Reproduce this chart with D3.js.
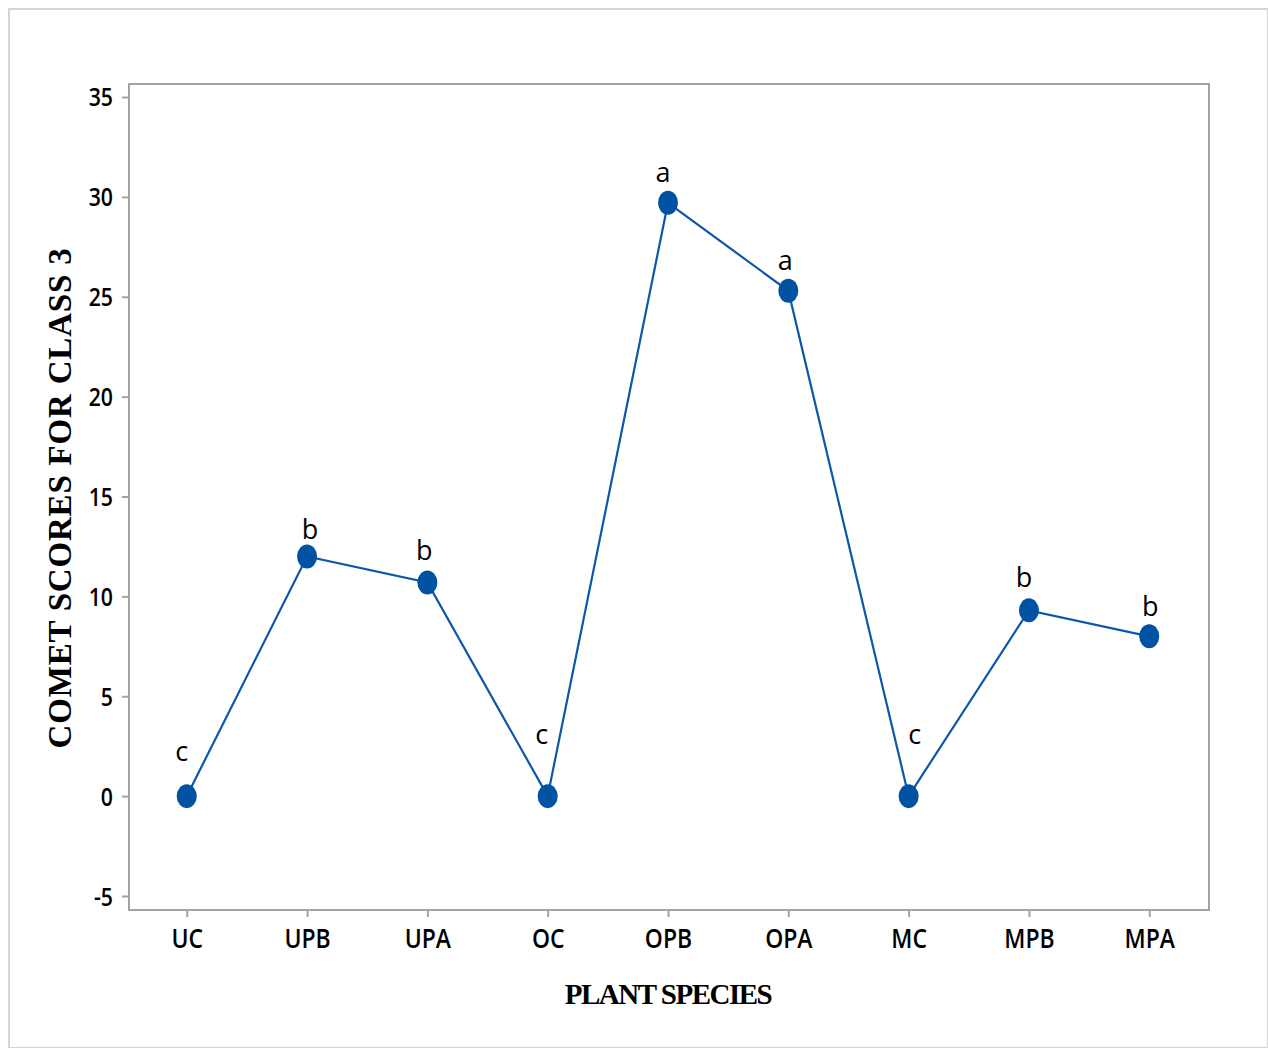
<!DOCTYPE html>
<html>
<head>
<meta charset="utf-8">
<script src="https://cdn.jsdelivr.net/npm/d3@7"></script>
<style>
  body { margin: 0; background: #fff; }
  svg text { fill: #000; }
</style>
</head>
<body>
<div id="chart"></div>
<script>
const species = ["UC", "UPB", "UPA", "OC", "OPB", "OPA", "MC", "MPB", "MPA"];
const scores = [0, 12.0, 10.7, 0, 29.7, 25.3, 0, 9.3, 8.0];
const letters = ["c", "b", "b", "c", "a", "a", "c", "b", "b"];
const yTicks = [-5, 0, 5, 10, 15, 20, 25, 30, 35];

function renderChart() {
    const W = 1268, H = 1048;
    const plot = {left: 129, right: 1209, top: 84, bottom: 910};
    const squeeze = 0.85;

    const svg = d3.select("#chart").append("svg")
        .attr("width", W)
        .attr("height", H);

    // outer frame
    svg.append("rect")
        .attr("x", 9).attr("y", 9)
        .attr("width", W - 9).attr("height", H - 9)
        .attr("fill", "none")
        .attr("stroke", "#d4d4d4")
        .attr("stroke-width", 2);

    const x = d3.scalePoint()
        .domain(species)
        .range([plot.left, plot.right - 2])
        .padding(0.48);

    const y = d3.scaleLinear()
        .domain([-5.7, 35.65])
        .range([plot.bottom, plot.top]);

    // plot frame
    svg.append("rect")
        .attr("x", plot.left).attr("y", plot.top)
        .attr("width", plot.right - plot.left)
        .attr("height", plot.bottom - plot.top)
        .attr("fill", "none")
        .attr("stroke", "#a3a3a3")
        .attr("stroke-width", 2);

    const yAxis = svg.append("g")
        .attr("transform", "translate(" + plot.left + ",0)")
        .call(d3.axisLeft(y).tickValues(yTicks).tickSize(7).tickFormat(d => String(d)));
    yAxis.select(".domain").remove();
    yAxis.selectAll("line").attr("stroke", "#a3a3a3").attr("stroke-width", 2);
    yAxis.selectAll("text")
        .style("font-family", "'Open Sans', sans-serif")
        .style("font-weight", "600")
        .style("font-size", "25px")
        .attr("dy", "0.36em")
        .attr("transform", "scale(" + squeeze + ",1)")
        .attr("x", -16 / squeeze)
        .style("fill", "#000");

    const xAxis = svg.append("g")
        .attr("transform", "translate(0," + plot.bottom + ")")
        .call(d3.axisBottom(x).tickSize(7));
    xAxis.select(".domain").remove();
    xAxis.selectAll("line").attr("stroke", "#a3a3a3").attr("stroke-width", 2);
    xAxis.selectAll("text")
        .style("font-family", "'Open Sans', sans-serif")
        .style("font-weight", "600")
        .style("font-size", "27px")
        .attr("y", 38)
        .attr("dy", 0)
        .attr("transform", "scale(" + squeeze + ",1)")
        .style("fill", "#000");

    const line = d3.line()
        .x((d, i) => x(species[i]))
        .y(d => y(d));

    svg.append("path")
        .datum(scores)
        .attr("d", line)
        .attr("fill", "none")
        .attr("stroke", "#0b57a8")
        .attr("stroke-width", 2.2);

    svg.append("g")
        .selectAll("ellipse")
        .data(scores)
        .enter()
        .append("ellipse")
        .attr("cx", (d, i) => x(species[i]))
        .attr("cy", d => y(d))
        .attr("rx", 10)
        .attr("ry", 12)
        .attr("fill", "#0052a3");

    // letter nudges (px above the marker, and horizontal shift)
    const labelDy = [35, 17, 22, 52, 21, 21, 52, 23, 20];
    const labelDx = [-5, 3, -3, -6, -5, -3, 6, -5, 1];

    svg.append("g")
        .selectAll("text")
        .data(letters)
        .enter()
        .append("text")
        .attr("x", (d, i) => x(species[i]) + labelDx[i])
        .attr("y", (d, i) => y(scores[i]) - labelDy[i])
        .attr("text-anchor", "middle")
        .style("font-family", "'Open Sans', sans-serif")
        .style("font-size", "27px")
        .text(d => d);

    svg.append("text")
        .attr("x", 668)
        .attr("y", 1004)
        .attr("text-anchor", "middle")
        .style("font-family", "'Liberation Serif', serif")
        .style("font-weight", "bold")
        .style("font-size", "29px")
        .style("letter-spacing", "-1.5px")
        .text("PLANT SPECIES");

    svg.append("text")
        .attr("transform", "translate(71,498) rotate(-90)")
        .attr("text-anchor", "middle")
        .style("font-family", "'Liberation Serif', serif")
        .style("font-weight", "bold")
        .style("font-size", "33px")
        .style("letter-spacing", "0.8px")
        .text("COMET SCORES FOR CLASS 3");
}

renderChart();
</script>
</body>
</html>
